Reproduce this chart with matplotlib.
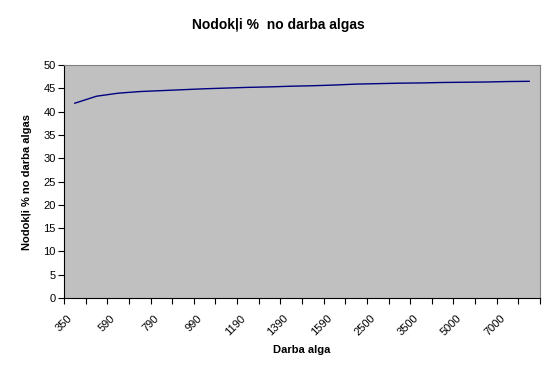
import matplotlib.pyplot as plt
import numpy as np

plt.rcParams['font.family'] = ['Liberation Sans', 'DejaVu Sans']

# Darba alga (categories) and tax share in %
salary = ['350', '470', '590', '690', '790', '890', '990', '1090', '1190', '1290', '1390',
          '1490', '1590', '2000', '2500', '3000', '3500', '4000', '5000', '6000', '7000', '8000']
tax_pct = [41.8, 43.3, 43.95, 44.3, 44.5, 44.7, 44.9, 45.05, 45.2, 45.3, 45.45,
           45.55, 45.7, 45.9, 46.0, 46.1, 46.15, 46.25, 46.3, 46.35, 46.45, 46.5]
y_ticks = list(range(0, 51, 5))

fig = plt.figure(figsize=(5.56, 3.76), dpi=100)
ax = fig.add_axes([64 / 556, 1 - 298 / 376, 476 / 556, 233 / 376])
ax.set_facecolor('#c0c0c0')

x = np.arange(len(salary))
ax.plot(x, tax_pct, color='#000080', linewidth=1.0)

ax.set_xlim(-0.5, len(salary) - 0.5)
ax.set_ylim(0, 50)
ax.set_yticks(y_ticks)
ax.tick_params(axis='y', labelsize=8, direction='out', length=4, width=0.8, pad=2)

# labels on every other category (near its left edge), tick marks between categories
ax.set_xticks(x[::2] - 0.36)
ax.set_xticklabels(salary[::2], rotation=45, ha='right', va='top',
                   rotation_mode='anchor', fontsize=8)
ax.tick_params(axis='x', which='major', length=0, pad=11)
ax.set_xticks(np.arange(-0.5, len(salary), 1), minor=True)
ax.tick_params(axis='x', which='minor', direction='out', length=4, width=0.8)

for side in ['top', 'right']:
    ax.spines[side].set_color('#808080')
ax.spines['left'].set_color('black')
ax.spines['bottom'].set_color('black')

ax.set_xlabel('Darba alga', fontsize=8, fontweight='bold', labelpad=5)
ax.set_ylabel('Nodokļi % no darba algas', fontsize=8, fontweight='bold', labelpad=8)
fig.text(0.5, 1 - 25 / 376, 'Nodokļi %  no darba algas', ha='center', va='center',
         fontsize=10, fontweight='bold')

fig.savefig('out.png', dpi=100)
